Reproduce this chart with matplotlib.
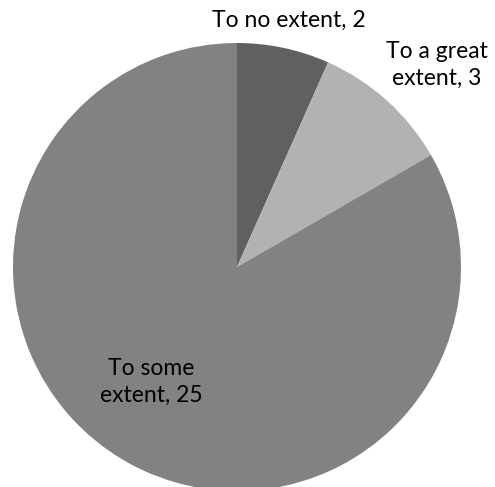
import matplotlib
matplotlib.use("Agg")
import matplotlib.pyplot as plt

categories = ["To no extent", "To a great extent", "To some extent"]
values = [2, 3, 25]
label_texts = ["To no extent, 2", "To a great\nextent, 3", "To some\nextent, 25"]
colors = ["#606060", "#b2b2b2", "#828282"]

W, H = 495, 487
fig = plt.figure(figsize=(W / 100, H / 100), dpi=100)
cx, cy, r = 237, 267, 224
ax = fig.add_axes([(cx - r) / W, (H - cy - r) / H, 2 * r / W, 2 * r / H])
ax.pie(values, colors=colors, startangle=90, counterclock=False,
       wedgeprops=dict(linewidth=0))
ax.set_xlim(-1, 1)
ax.set_ylim(-1, 1)
ax.set_aspect("equal")
ax.axis("off")

label_px = [(289, 20), (437, 65), (151, 382)]
for txt, (px, py) in zip(label_texts, label_px):
    ax.text((px - cx) / r, (cy - py) / r, txt, ha="center", va="center",
            fontsize=16.5, family=["Lato", "DejaVu Sans"], color="black",
            linespacing=1.32, clip_on=False)

fig.savefig("out.png", dpi=100)
